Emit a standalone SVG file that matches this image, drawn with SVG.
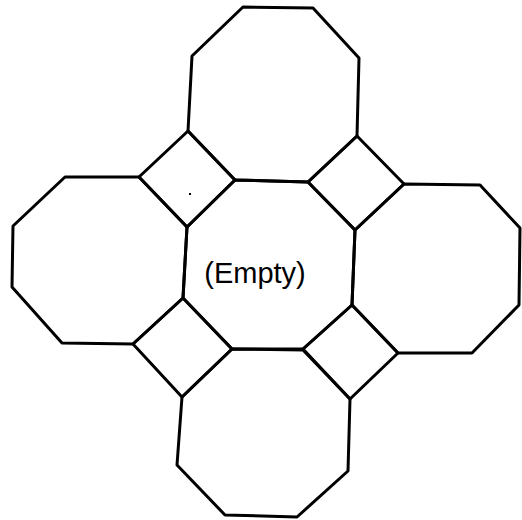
<svg xmlns="http://www.w3.org/2000/svg" width="522" height="520" viewBox="0 0 522 520">
<style>
.s{fill:none;stroke:#000;stroke-width:3;stroke-linejoin:round}
.t{font-family:"Liberation Sans",Arial,sans-serif;font-size:29px;fill:#000}
</style>
<rect width="522" height="520" fill="#fff"/>
<g id="oct-top"><polygon class="s" points="243,7 313,8 359,58 357,136 308,182 235,180 188,131 192,56"/></g>
<g id="oct-left"><polygon class="s" points="65,177 139,177 187,227 183,298 133,344 62,343 12,287 13,226"/></g>
<g id="oct-right"><polygon class="s" points="404,184 480,185 520,228 519,305 472,353 398,353 352,305 355,230"/></g>
<g id="oct-bottom"><polygon class="s" points="232,349 303,350 350,399 348,471 297,517 225,515 177,465 182,397"/></g>
<g id="oct-center"><polygon class="s" points="235,180 308,182 355,230 352,305 303,349 232,349 183,298 187,227"/>
<text class="t" x="255" y="283" text-anchor="middle">(Empty)</text></g>
<g id="sq-tl"><polygon class="s" points="188,131 235,180 187,227 139,177"/></g>
<g id="sq-tr"><polygon class="s" points="357,136 404,184 355,230 308,182"/></g>
<g id="sq-bl"><polygon class="s" points="183,298 232,349 182,397 133,344"/></g>
<g id="sq-br"><polygon class="s" points="352,305 398,353 350,399 303,349"/></g>
<rect x="189" y="193" width="2" height="2" fill="#000"/>
</svg>
